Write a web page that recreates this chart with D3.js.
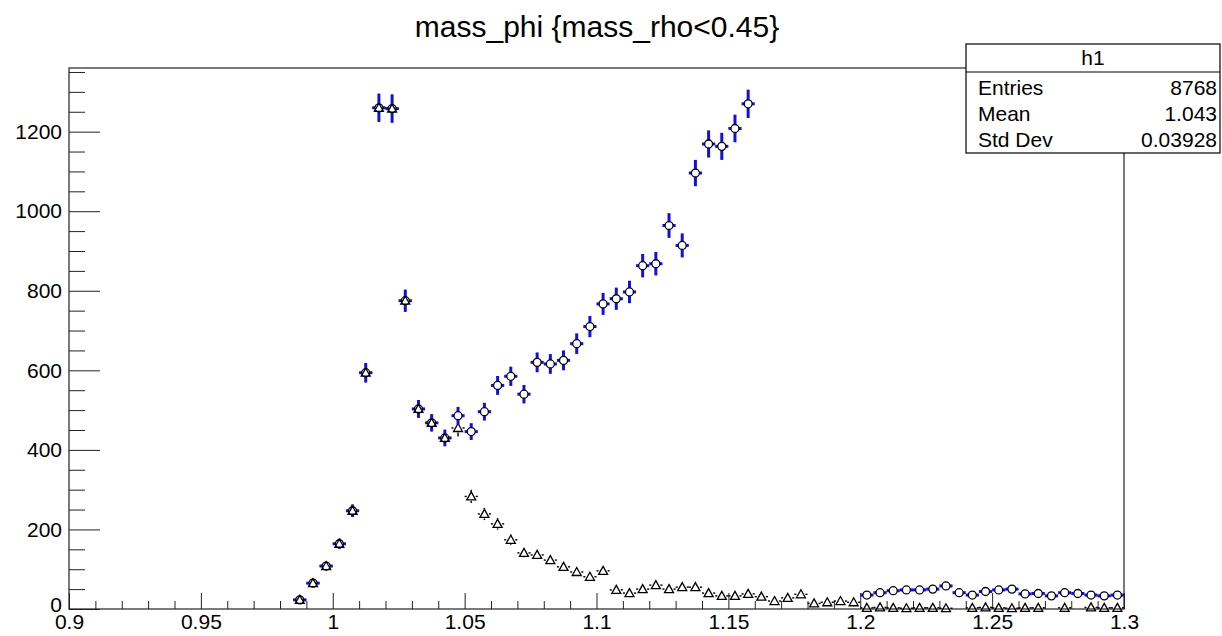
<!DOCTYPE html>
<html>
<head>
<meta charset="utf-8">
<script src="https://cdn.jsdelivr.net/npm/d3@7"></script>
<style>
  body { margin: 0; background: #fff; }
  text { font-family: "Liberation Sans", Arial, Helvetica, sans-serif; }
</style>
</head>
<body>
<svg id="chart" width="1222" height="636"></svg>
<script>
// histogram binning (80 bins on 0.9..1.3, only the filled part listed)
const firstBinLow = 0.985;
const binWidth = 0.005;

// h1 : black open triangles (null = empty bin)
const h1Counts = [
  23, 65, 108, 164, 247, 594, 1260, 1258, 775, 503, 468, 430,
  455, 283, 239, 214, 174, 141, 136, 123, 106, 93, 81, 96,
  48, 40, 50, 60, 50, 55, 55, 40, 33, 33, 38,
  31, 20, 28, 37, 14, 17, 20, 17,
  3, 4, 3, 2, 3, 3, 2, null, 3, 4, 3, 2, 3, 3, null, 3, null, 4, 3, 3
];

// second histogram : blue open circles (null = off the frame)
const h2Counts = [
  23, 65, 108, 164, 247, 594, 1260, 1258, 775, 503, 468, 430,
  486, 446, 496, 562, 585, 540, 620, 616, 625, 667, 710, 767,
  780, 797, 863, 868, 964, 914, 1096, 1169, 1163, 1208, 1270,
  null, null, null, null, null, null, null, null,
  35, 41, 46, 48, 48, 50, 58, 41, 35, 44, 48, 50, 38, 39, 33, 41, 39, 35, 33, 35
];

const xMajor = [0.9, 0.95, 1, 1.05, 1.1, 1.15, 1.2, 1.25, 1.3];
const yMajor = [0, 200, 400, 600, 800, 1000, 1200];

const title = "mass_phi {mass_rho<0.45}";
const statsName = "h1";
const statsRows = [["Entries", "8768"], ["Mean", "1.043"], ["Std Dev", "0.03928"]];

const svg = d3.select("#chart");
const frame = { left: 69, right: 1124, top: 68, bottom: 609 };

const x = d3.scaleLinear().domain([0.9, 1.3]).range([frame.left, frame.right]);
const y = d3.scaleLinear().domain([0, 1360]).range([frame.bottom, frame.top]);

const xMinor = d3.range(0, 41).map(i => +(0.9 + i * 0.01).toFixed(2)).filter(v => !xMajor.some(m => Math.abs(m - v) < 1e-9));
const yMinor = d3.range(0, 1360, 50).filter(v => v % 200 !== 0);

// axes, ROOT style: ticks point into the frame
const gx = svg.append("g").attr("transform", `translate(0,${frame.bottom})`);
gx.call(d3.axisBottom(x).tickValues(xMajor).tickSize(-16).tickPadding(5).tickFormat(d3.format("~g")));
gx.append("g").call(d3.axisBottom(x).tickValues(xMinor).tickSize(-8).tickFormat(""));

const gy = svg.append("g").attr("transform", `translate(${frame.left},0)`);
gy.call(d3.axisLeft(y).tickValues(yMajor).tickSize(-31).tickPadding(7).tickFormat(d3.format("d")));
gy.append("g").call(d3.axisLeft(y).tickValues(yMinor).tickSize(-16).tickFormat(""));

svg.selectAll(".domain").remove();
svg.selectAll(".tick line").attr("stroke", "#222");
svg.selectAll(".tick text").attr("font-size", 21).attr("fill", "#000")
   .style("font-family", '"Liberation Sans", Arial, sans-serif');
// the "0" of the y axis sits a little above the x labels, as in ROOT
gy.selectAll(".tick text").filter(d => d === 0).attr("dy", "0.1em");

svg.append("rect")
   .attr("x", frame.left).attr("y", frame.top)
   .attr("width", frame.right - frame.left).attr("height", frame.bottom - frame.top)
   .attr("fill", "none").attr("stroke", "#222").attr("stroke-width", 1.2);

// build bin records
function bins(counts) {
  return counts.map((v, i) => ({ lo: firstBinLow + i * binWidth, v }))
               .filter(d => d.v !== null && d.v > 0);
}

function drawHist(counts, opts) {
  const data = bins(counts);
  const g = svg.append("g");
  const half = opts.half;
  data.forEach(d => {
    const cx = x(d.lo + binWidth / 2), cy = y(d.v);
    const xl = x(d.lo), xr = x(d.lo + binWidth);
    const err = y(0) - y(Math.sqrt(d.v));
    const segs = [];
    if (cx - half > xl) segs.push([xl, cy, cx - half, cy], [cx + half, cy, xr, cy]);
    if (err > half) segs.push([cx, cy - half, cx, cy - err], [cx, cy + half, cx, cy + err]);
    segs.forEach(s => g.append("line")
      .attr("x1", s[0]).attr("y1", s[1]).attr("x2", s[2]).attr("y2", s[3])
      .attr("stroke", opts.color).attr("stroke-width", opts.lw));
  });
  g.selectAll("path.m").data(data).enter().append("path")
   .attr("class", "m")
   .attr("d", opts.symbol)
   .attr("transform", d => `translate(${x(d.lo + binWidth / 2)},${y(d.v)})`)
   .attr("fill", "none").attr("stroke", "#000").attr("stroke-width", 1.3);
}

drawHist(h1Counts, {
  color: "#000", lw: 1.4, half: 4.5,
  symbol: "M0,-4.5L4.5,3.5L-4.5,3.5Z"
});
drawHist(h2Counts, {
  color: "#1010e0", lw: 3, half: 4,
  symbol: d3.symbol(d3.symbolCircle, 50)()
});

// title
svg.append("text")
   .attr("x", 597).attr("y", 37)
   .attr("text-anchor", "middle")
   .attr("font-size", 30)
   .text(title);

// stats box
const sb = { x: 966, y: 44, w: 254, h: 109, head: 28 };
const stats = svg.append("g");
stats.append("rect")
   .attr("x", sb.x).attr("y", sb.y).attr("width", sb.w).attr("height", sb.h)
   .attr("fill", "#fff").attr("stroke", "#000").attr("stroke-width", 1.2);
stats.append("line")
   .attr("x1", sb.x).attr("x2", sb.x + sb.w)
   .attr("y1", sb.y + sb.head).attr("y2", sb.y + sb.head)
   .attr("stroke", "#000").attr("stroke-width", 1.2);
stats.append("text")
   .attr("x", sb.x + sb.w / 2).attr("y", sb.y + 21)
   .attr("text-anchor", "middle").attr("font-size", 21)
   .text(statsName);
statsRows.forEach((r, i) => {
  const by = sb.y + 51 + i * 26;
  stats.append("text").attr("x", sb.x + 12).attr("y", by).attr("font-size", 21).text(r[0]);
  stats.append("text").attr("x", sb.x + sb.w - 3).attr("y", by)
       .attr("text-anchor", "end").attr("font-size", 21).text(r[1]);
});
</script>
</body>
</html>
